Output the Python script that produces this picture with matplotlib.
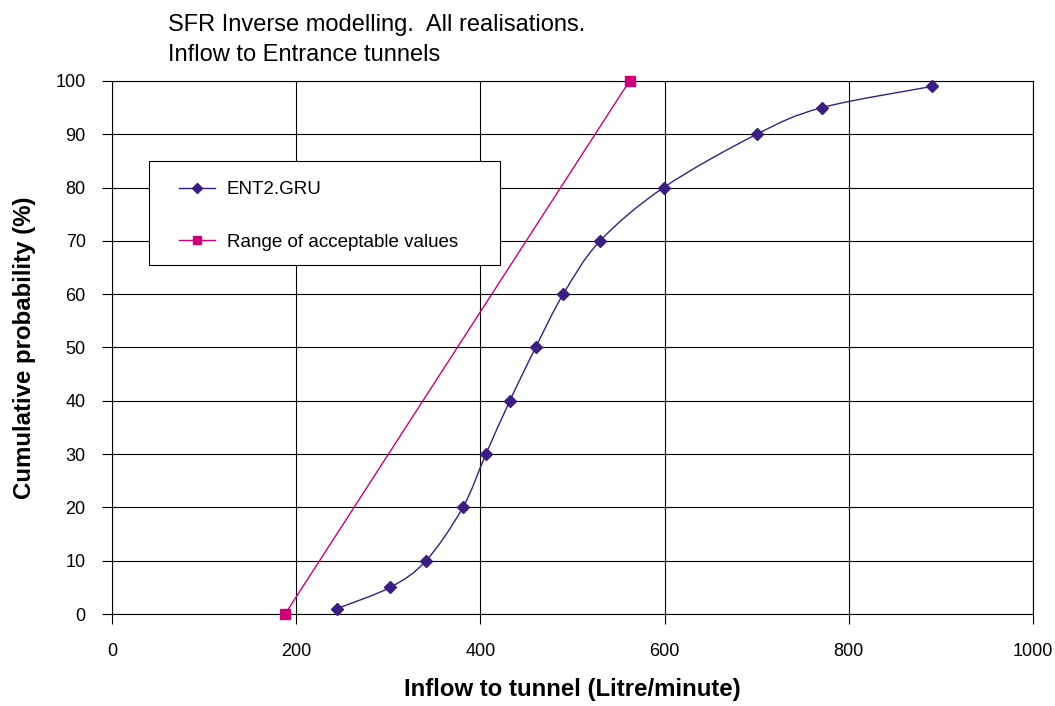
import numpy as np
import matplotlib
matplotlib.use("Agg")
import matplotlib.pyplot as plt
from matplotlib.path import Path
from matplotlib.patches import PathPatch, Rectangle
from matplotlib.lines import Line2D

plt.rcParams['font.family'] = ['Liberation Sans', 'DejaVu Sans']

# Cumulative distribution of simulated inflow (ENT2.GRU)
ent2_inflow = [244, 302, 341, 381, 406, 432, 460, 490, 530, 599, 700, 771, 891]
ent2_prob = [1, 5, 10, 20, 30, 40, 50, 60, 70, 80, 90, 95, 99]

# Range of acceptable values
range_inflow = [188, 562]
range_prob = [0, 100]

x_ticks = [0, 200, 400, 600, 800, 1000]
y_ticks = [0, 10, 20, 30, 40, 50, 60, 70, 80, 90, 100]

ENT2_COLOR = '#3a1e80'
RANGE_COLOR = '#cc0077'


def smooth_path(xs, ys):
    """Catmull-Rom style cubic Bezier path through the given points."""
    pts = np.column_stack([xs, ys]).astype(float)
    n = len(pts)
    verts = [pts[0]]
    codes = [Path.MOVETO]
    for i in range(n - 1):
        p0 = pts[i - 1] if i > 0 else pts[i]
        p1 = pts[i]
        p2 = pts[i + 1]
        p3 = pts[i + 2] if i + 2 < n else pts[i + 1]
        c1 = p1 + (p2 - p0) / 6.0
        c2 = p2 - (p3 - p1) / 6.0
        verts += [c1, c2, p2]
        codes += [Path.CURVE4] * 3
    return Path(verts, codes)


fig = plt.figure(figsize=(10.55, 7.06), dpi=100)
ax = fig.add_axes([0.1062, 0.1303, 0.8728, 0.755])

ax.set_xlim(0, 1000)
ax.set_ylim(0, 100)
ax.set_xticks(x_ticks)
ax.set_yticks(y_ticks)
ax.tick_params(axis='both', direction='out', length=7, width=0.8,
               labelsize=13, colors='black')
ax.tick_params(axis='y', pad=12)
ax.tick_params(axis='x', pad=14)
ax.grid(True, color='black', linewidth=0.8)
ax.set_axisbelow(True)
for s in ax.spines.values():
    s.set_linewidth(0.8)
    s.set_color('black')

# Smoothed curve for ENT2.GRU
ax.add_patch(PathPatch(smooth_path(ent2_inflow, ent2_prob), facecolor='none',
                       edgecolor=ENT2_COLOR, linewidth=1.0, zorder=3))
ax.plot(ent2_inflow, ent2_prob, linestyle='none', marker='D', markersize=6,
        color=ENT2_COLOR, zorder=4, clip_on=False)

ax.plot(range_inflow, range_prob, color=RANGE_COLOR, linewidth=1.0,
        marker='s', markersize=6.5, zorder=4, clip_on=False)

ax.set_xlabel('Inflow to tunnel (Litre/minute)', fontsize=17.3,
              fontweight='bold', labelpad=13)
ax.set_ylabel('Cumulative probability (%)', fontsize=17.3,
              fontweight='bold', labelpad=14)

fig.text(0.159, 0.965, 'SFR Inverse modelling.  All realisations.',
         fontsize=17, ha='left', va='center')
fig.text(0.159, 0.922, 'Inflow to Entrance tunnels',
         fontsize=17, ha='left', va='center')

# Legend box drawn separately so its padding can be set freely
ax.add_patch(Rectangle((0.0402, 0.6548), 0.3811, 0.1952, transform=ax.transAxes,
                       facecolor='white', edgecolor='black', linewidth=0.8,
                       zorder=5))
handles = [
    Line2D([], [], color=ENT2_COLOR, marker='D', markersize=5, linewidth=1.0),
    Line2D([], [], color=RANGE_COLOR, marker='s', markersize=5.5, linewidth=1.0),
]
leg = ax.legend(handles, ['ENT2.GRU', 'Range of acceptable values'],
                loc='upper left', bbox_to_anchor=(0.0727, 0.8124),
                fontsize=13.5, frameon=False, borderpad=0, labelspacing=1.9,
                handlelength=1.92, handletextpad=0.64, borderaxespad=0)
leg.set_zorder(6)

fig.savefig('out.png', dpi=100)
